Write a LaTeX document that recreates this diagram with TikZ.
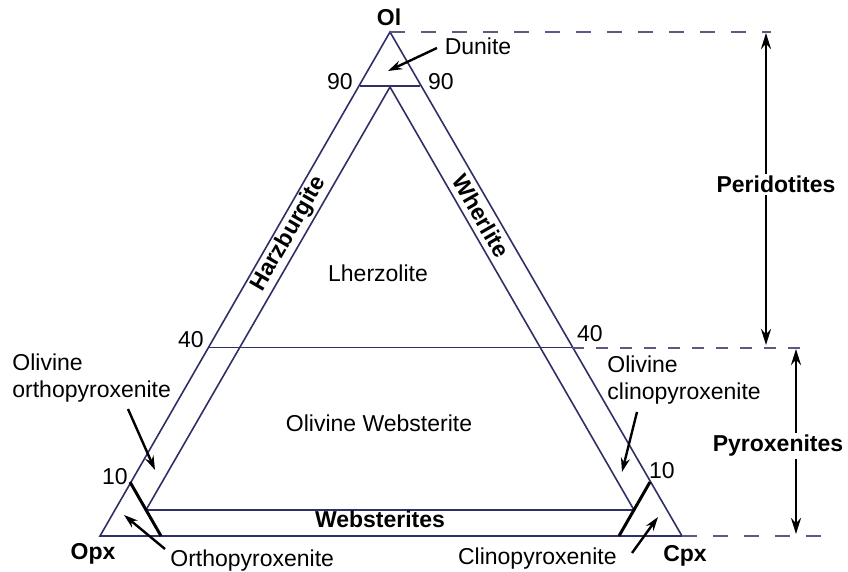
\documentclass[tikz,border=0pt]{standalone}
\usepackage{fontspec}
\setmainfont{Liberation Sans}
\usetikzlibrary{arrows.meta}
\definecolor{edgeblue}{RGB}{48,48,104}
\tikzset{
  lbl/.style={inner sep=1pt,font=\fontsize{11.5}{13.5}\selectfont},
  blbl/.style={inner sep=1pt,font=\fontsize{11.5}{13.5}\selectfont\bfseries},
  sideline/.style={edgeblue,line width=0.8pt},
  guideline/.style={edgeblue!80,line width=1.4pt,dash pattern=on 7.5pt off 8pt},
  pointer/.style={-{Stealth[length=7pt,width=4.5pt]},line width=1.2pt},
  rangearrow/.style={{Stealth[length=8pt,width=5pt]}-{Stealth[length=8pt,width=5pt]},line width=1.2pt},
}
\begin{document}
\begin{tikzpicture}[x=0.5pt,y=-0.5pt]
  \useasboundingbox (0,0) rectangle (848,572);
  % corners of the ternary, 1 unit = 1 px of the figure
  \coordinate (Ol) at (390,32);
  \coordinate (Opx) at (100,536);
  \coordinate (Cpx) at (682,536);
  \coordinate (iOl) at (390,87);
  \coordinate (iOpx) at (146,510);
  \coordinate (iCpx) at (634,510);
  \coordinate (l90) at (360,86);  \coordinate (r90) at (420,86);
  \coordinate (l40) at (208,348); \coordinate (r40) at (572,348);
  \coordinate (l10) at (130,482); \coordinate (b10l) at (161,536);
  \coordinate (r10) at (650,482); \coordinate (b10r) at (619,536);
  \coordinate (topend) at (771,32);
  \coordinate (midend) at (808,348);
  \coordinate (botend) at (822,536);
  % outer and inner triangles
  \draw[sideline] (Ol) -- (Opx) -- (Cpx) -- cycle;
  \draw[sideline] (iOl) -- (iOpx) -- (iCpx) -- cycle;
  \draw[sideline] (l90) -- (r90);
  \draw[edgeblue,line width=0.5pt] (l40) -- (r40);
  \draw[line width=1.5pt] (l10) -- (b10l);
  \draw[line width=1.5pt] (r10) -- (b10r);
  % dashed guides
  \draw[guideline] (Ol) -- (topend);
  \draw[edgeblue!80,line width=0.6pt,dash pattern=on 6pt off 6pt] (r40) -- (midend);
  \draw[guideline] (Cpx) -- (botend);
  % ranges
  \coordinate (pertop) at (766,33);  \coordinate (perbot) at (766,345);
  \coordinate (pyrtop) at (796,349); \coordinate (pyrbot) at (796,534);
  \draw[rangearrow] (pertop) -- (perbot);
  \draw[rangearrow] (pyrtop) -- (pyrbot);
  % labels
  \node[blbl,anchor=base] (olLbl) at (389,26) {Ol};
  \node[lbl,anchor=base] (dunLbl) at (478,55) {Dunite};
  \node[lbl,anchor=base] (n90l) at (340,90) {90};
  \node[lbl,anchor=base] (n90r) at (441,90) {90};
  \node[blbl,rotate=60] (harz) at (289,234) {Harzburgite};
  \node[blbl,rotate=-60] (wher) at (481,216) {Wherlite};
  \node[lbl,anchor=base] (lherz) at (378,282) {Lherzolite};
  \node[lbl,anchor=base] (n40l) at (191,348) {40};
  \node[lbl,anchor=base] (n40r) at (590,342) {40};
  \node[lbl,align=left,anchor=north west] (oortho) at (10,351) {Olivine\\orthopyroxenite};
  \node[lbl,align=left,anchor=north west] (oclino) at (605,353) {Olivine\\clinopyroxenite};
  \node[lbl,anchor=base] (olweb) at (379,432) {Olivine Websterite};
  \node[lbl,anchor=base] (n10l) at (115,485) {10};
  \node[lbl,anchor=base] (n10r) at (662,479) {10};
  \node[blbl,anchor=base] (webs) at (380,528) {Websterites};
  \node[blbl,anchor=base] (opxLbl) at (93,560) {Opx};
  \node[lbl,anchor=base west] (ortho) at (168,567) {Orthopyroxenite};
  \node[lbl,anchor=base east] (clino) at (619,565) {Clinopyroxenite};
  \node[blbl,anchor=base] (cpxLbl) at (685,562) {Cpx};
  \node[blbl,anchor=base,fill=white] (perid) at (776,193) {Peridotites};
  \node[blbl,anchor=base,fill=white] (pyrox) at (778,452) {Pyroxenites};
  % pointers
  \coordinate (dunTip) at (388,71);    \coordinate (dunTail) at (437,48);
  \coordinate (ooTip) at (155,470);    \coordinate (ooTail) at (128,409);
  \coordinate (orTip) at (124,515);    \coordinate (orTail) at (165,549);
  \coordinate (ocTip) at (622,472);    \coordinate (ocTail) at (637,412);
  \coordinate (clTip) at (658,517);    \coordinate (clTail) at (632,553);
  \draw[pointer] (dunTail) -- (dunTip);
  \draw[pointer] (ooTail) -- (ooTip);
  \draw[pointer] (orTail) -- (orTip);
  \draw[pointer] (ocTail) -- (ocTip);
  \draw[pointer] (clTail) -- (clTip);
\end{tikzpicture}
\end{document}
